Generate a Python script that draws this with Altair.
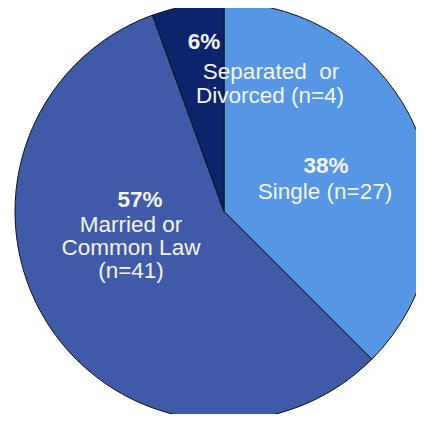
import altair as alt
import pandas as pd

categories = ["Single", "Married or Common Law", "Separated or Divorced"]
counts = [27, 41, 4]
percents = ["38%", "57%", "6%"]
colors = ["#5597E5", "#3F5AA9", "#0D246C"]

df = pd.DataFrame({"category": categories, "count": counts, "order": [0, 1, 2]})

CX, CY, R = 216, 203.5, 209

pie = alt.Chart(df).mark_arc(stroke="#111111", strokeWidth=1, outerRadius=R).encode(
    theta=alt.Theta("count:Q", stack=True),
    order=alt.Order("order:Q"),
    color=alt.Color("category:N", scale=alt.Scale(domain=categories, range=colors), legend=None),
    x=alt.value(CX),
    y=alt.value(CY),
)

FONT = "Liberation Sans"
TXT = "#F4F6FB"

def label(text, x, y, bold=False, size=22.5):
    return alt.Chart(df).transform_filter("datum.order == 0").mark_text(
        font=FONT, fontSize=size, fontWeight="bold" if bold else "normal",
        color=TXT, align="center", baseline="middle",
    ).encode(x=alt.value(x), y=alt.value(y), text=alt.value(text))

layers = [
    pie,
    label(percents[2], 196, 34, bold=True, size=22.5),
    label("Separated\u00a0\u00a0or", 263, 64),
    label("Divorced (n=4)", 262, 88),
    label(percents[0], 318, 158, bold=True, size=22.5),
    label("Single (n=" + str(counts[0]) + ")", 317, 184),
    label(percents[1], 132, 192, bold=True, size=22.5),
    label("Married or", 123, 217),
    label("Common Law", 123, 240),
    label("(n=" + str(counts[1]) + ")", 123, 263),
]

chart = alt.layer(*layers).properties(
    width=408, height=406, padding=0, autosize="none"
).configure_view(stroke=None)

chart.save("out.html", embed_options={"renderer": "svg", "actions": False})
